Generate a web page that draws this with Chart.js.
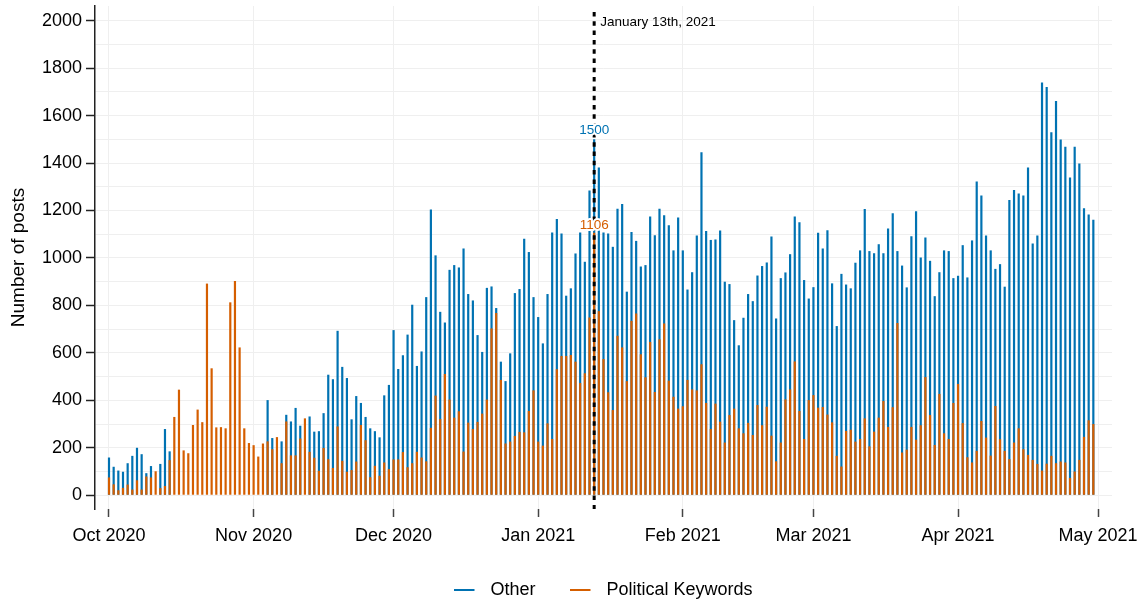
<!DOCTYPE html>
<html>
<head>
<meta charset="utf-8">
<script src="https://cdn.jsdelivr.net/npm/chart.js@4.4.1/dist/chart.umd.min.js"></script>
<style>
  html, body { margin: 0; padding: 0; background: #fff; }
  #wrap { width: 1140px; height: 601px; position: relative; }
</style>
</head>
<body>
<div id="wrap"><canvas id="c" width="1140" height="601"></canvas></div>
<script>
// Daily posts, 1 Oct 2020 (day 0) to 30 Apr 2021 (day 211)
const politicalValues = [
  75, 46, 21, 31, 45, 24, 63, 24, 79, 75, 101, 30, 39, 148, 330, 445, 189, 177, 296, 361, 308, 892, 535, 286, 287, 282, 813, 903, 623, 282, 220,
  211, 163, 218, 227, 194, 245, 135, 311, 168, 168, 239, 324, 183, 158, 103, 199, 152, 115, 290, 145, 99, 106, 142, 296, 232, 76, 124, 82, 138, 110,
  151, 151, 182, 118, 135, 183, 159, 143, 284, 420, 321, 511, 403, 327, 354, 184, 306, 279, 309, 344, 403, 703, 768, 486, 218, 226, 250, 267, 265, 355, 442,
  226, 209, 303, 237, 531, 587, 587, 591, 563, 473, 514, 749, 1106, 776, 574, 434, 359, 672, 623, 481, 735, 766, 594, 497, 646, 435, 657, 724, 483, 415, 365,
  375, 486, 446, 442, 552, 389, 279, 386, 310, 222, 338, 365, 282, 261, 305, 254, 380, 295, 373, 251, 143, 222, 404, 446, 564, 355, 237,
  401, 422, 369, 372, 340, 307, 166, 121, 271, 276, 226, 237, 324, 206, 268, 327, 397, 288, 371, 726, 180, 192, 288, 234, 295, 498, 338, 212, 427, 261, 237,
  389, 469, 304, 160, 138, 187, 313, 243, 167, 376, 236, 187, 152, 222, 282, 194, 170, 149, 132, 104, 133, 166, 135, 142, 138, 73, 100, 149, 246, 316, 300
];
// Blue bar tops ("Other"); null where the blue bar is hidden behind the orange one
const otherValues = [
  159, 120, 104, 99, 135, 166, 200, 173, 93, 123, null, 132, 279, 185, null, null, null, null, null, null, null, null, null, null, null, null, null, null, null, null, null,
  null, null, null, 401, 241, null, 227, 339, 311, 368, 293, null, 332, 268, 270, 346, 508, 489, 693, 541, 494, 320, 418, 389, 330, 282, 270, 244, 421, 465,
  696, 532, 590, 677, 803, 545, 606, 835, 1204, 1011, 773, 728, 950, 970, 960, 1040, 848, 821, 675, 604, 874, 880, 789, 563, 481, 598, 852, 869, 1081, 1025, 835,
  751, 640, 848, 1107, 1164, 1103, 841, 872, 1019, 1107, 984, 1284, 1500, 1381, 1107, 1103, 1047, 1207, 1227, 858, 1109, 1072, 964, 970, 1175, 1096, 1207, 1180, 1138, 1032, 1171,
  1032, 867, 940, 1095, 1446, 1114, 1076, 1078, 1116, 900, 890, 738, 632, 748, 848, 818, 926, 966, 981, 1091, 745, 915, 939, 1016, 1175, 1151, 907,
  829, 877, 1106, 1040, 1117, 893, 713, 933, 888, 872, 980, 1032, 1206, 1029, 1020, 1058, 1020, 1124, 1189, 1029, 968, 876, 1092, 1197, 1002, 1086, 988, 839, 940, 1032, 1029,
  915, 925, 1054, 918, 1074, 1322, 1263, 1095, 1032, 954, 974, 879, 1244, 1286, 1272, 1263, 1381, 1061, 1095, 1740, 1721, 1530, 1662, 1499, 1469, 1339, 1469, 1398, 1210, 1183, 1161
];
const xTickDays = [0, 31, 61, 92, 123, 151, 182, 212];
const xTickLabels = ['Oct 2020', 'Nov 2020', 'Dec 2020', 'Jan 2021', 'Feb 2021', 'Mar 2021', 'Apr 2021', 'May 2021'];
const yGridValues = [0, 100, 200, 300, 400, 500, 600, 700, 800, 900, 1000, 1100, 1200, 1300, 1400, 1500, 1600, 1700, 1800, 1900, 2000];
const yLabelValues = [0, 200, 400, 600, 800, 1000, 1200, 1400, 1600, 1800, 2000];
const markerDay = 104;
const markerText = 'January 13th, 2021';
const seriesNames = ['Other', 'Political Keywords'];

const BLUE = '#0072B2';
const ORANGE = '#D55E00';
const FONT = '"Liberation Sans", Arial, Helvetica, sans-serif';

const toPoints = arr => arr.map((v, i) => ({ x: i, y: v }));

// legend swatch: short line at the left of a wider transparent box
function swatch(color) {
  const c = document.createElement('canvas');
  c.width = 27; c.height = 4;
  const g = c.getContext('2d');
  g.fillStyle = color;
  g.fillRect(0, 1, 20, 2);
  return c;
}

const annotPlugin = {
  id: 'annot',
  afterDatasetsDraw(chart) {
    const { ctx, chartArea, scales } = chart;
    const px = scales.x.getPixelForValue(markerDay);
    ctx.save();
    ctx.strokeStyle = '#000';
    ctx.lineWidth = 3;
    ctx.setLineDash([4.5, 4.8]);
    ctx.beginPath();
    ctx.moveTo(px, chartArea.top + 6);
    ctx.lineTo(px, chartArea.bottom);
    ctx.stroke();
    ctx.setLineDash([]);
    ctx.font = '13.5px ' + FONT;
    ctx.textBaseline = 'middle';
    ctx.textAlign = 'left';
    ctx.fillStyle = '#000';
    ctx.fillText(markerText, px + 6, chartArea.top + 16);
    ctx.textAlign = 'center';
    ctx.lineJoin = 'round';
    ctx.lineWidth = 4;
    ctx.strokeStyle = '#fff';
    const yb = scales.y.getPixelForValue(otherValues[markerDay]) - 9;
    const yo = scales.y.getPixelForValue(politicalValues[markerDay]) - 8;
    ctx.strokeText(String(otherValues[markerDay]), px, yb);
    ctx.fillStyle = BLUE;
    ctx.fillText(String(otherValues[markerDay]), px, yb);
    ctx.strokeText(String(politicalValues[markerDay]), px, yo);
    ctx.fillStyle = ORANGE;
    ctx.fillText(String(politicalValues[markerDay]), px, yo);
    ctx.restore();
  }
};

const barOpts = { grouped: false, borderWidth: 0, barPercentage: 0.47, categoryPercentage: 1, maxBarThickness: 2.2 };

new Chart(document.getElementById('c'), {
  type: 'bar',
  data: {
    datasets: [
      Object.assign({ label: seriesNames[0], data: toPoints(otherValues), backgroundColor: BLUE, order: 1 }, barOpts),
      Object.assign({ label: seriesNames[1], data: toPoints(politicalValues), backgroundColor: ORANGE, order: 0 }, barOpts)
    ]
  },
  plugins: [annotPlugin],
  options: {
    responsive: false,
    animation: false,
    devicePixelRatio: 1,
    layout: { padding: { left: 0, right: 28, top: 6, bottom: -8 } },
    plugins: {
      tooltip: { enabled: false },
      legend: {
        position: 'bottom',
        fullSize: false,
        labels: {
          usePointStyle: true,
          pointStyleWidth: 27,
          boxHeight: 18,
          padding: 35,
          color: '#000',
          font: { family: FONT, size: 18 },
          sort: (a, b) => a.datasetIndex - b.datasetIndex,
          generateLabels: chart => Chart.defaults.plugins.legend.labels.generateLabels(chart).map(item => {
            const col = chart.data.datasets[item.datasetIndex].backgroundColor;
            return Object.assign(item, { pointStyle: swatch(col), lineWidth: 0 });
          })
        }
      }
    },
    scales: {
      x: {
        type: 'linear',
        min: -3,
        max: 215,
        offset: false,
        afterBuildTicks: s => { s.ticks = xTickDays.map(v => ({ value: v })); },
        afterFit: s => { s.height = 37; s.paddingLeft = 0; s.paddingRight = 0; },
        ticks: {
          autoSkip: false,
          maxRotation: 0,
          padding: 8,
          color: '#000',
          font: { family: FONT, size: 18 },
          callback: v => xTickLabels[xTickDays.indexOf(v)]
        },
        grid: { offset: false, color: '#efefef', lineWidth: 1, tickColor: '#444', tickWidth: 1.5, tickLength: 8 },
        border: { display: false }
      },
      y: {
        min: -58,
        max: 2062,
        afterBuildTicks: s => { s.ticks = yGridValues.map(v => ({ value: v })); },
        afterFit: s => { s.width = 95; s.paddingTop = 0; s.paddingBottom = 0; },
        ticks: {
          padding: 4,
          color: '#000',
          font: { family: FONT, size: 18 },
          callback: v => (yLabelValues.includes(v) ? String(v) : '')
        },
        grid: {
          color: '#efefef',
          lineWidth: 1,
          tickLength: 9,
          tickWidth: 1.5,
          tickColor: c => (c.tick && yLabelValues.includes(c.tick.value) ? '#222' : 'rgba(0,0,0,0)')
        },
        border: { display: true, color: '#222', width: 1.5 },
        title: { display: true, text: 'Number of posts', color: '#000', font: { family: FONT, size: 19 }, padding: { top: 7, bottom: 0 } }
      }
    }
  }
});
</script>
</body>
</html>
